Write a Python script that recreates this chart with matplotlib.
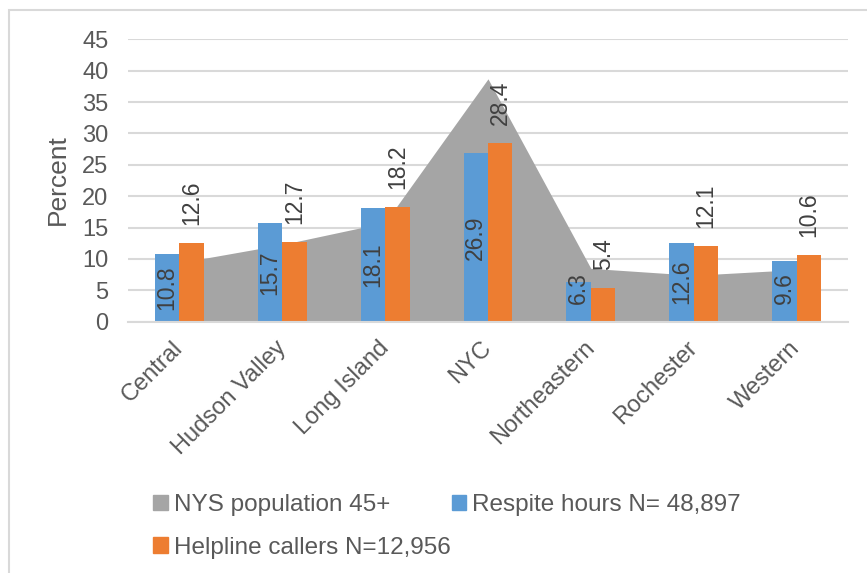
import matplotlib.pyplot as plt
import matplotlib.transforms as mtrans
import numpy as np
from matplotlib.patches import Patch, Rectangle

plt.rcParams['font.family'] = ['Liberation Sans', 'DejaVu Sans']

C_POP = '#A5A5A5'
C_RESPITE = '#5B9BD5'
C_HELP = '#ED7D31'
C_TEXT = '#595959'
C_LABEL = '#404040'
C_GRID = '#D9D9D9'

regions = ['Central', 'Hudson Valley', 'Long Island', 'NYC', 'Northeastern', 'Rochester', 'Western']
pop_45 = [9.4, 12.3, 15.8, 38.7, 8.5, 7.4, 8.3]
respite = [10.8, 15.7, 18.1, 26.9, 6.3, 12.6, 9.6]
helpline = [12.6, 12.7, 18.2, 28.4, 5.4, 12.1, 10.6]
yticks = [0, 5, 10, 15, 20, 25, 30, 35, 40, 45]

W, H = 867, 573
fig = plt.figure(figsize=(W / 100, H / 100), dpi=100)
ax = fig.add_axes([128 / W, 1 - 321.7 / H, 720 / W, 282.4 / H])

x = np.arange(len(regions))
bw = 0.238

ax.fill_between(x, 0, pop_45, color=C_POP, lw=0, zorder=1)
ax.bar(x - bw / 2, respite, bw, color=C_RESPITE, zorder=2)
ax.bar(x + bw / 2, helpline, bw, color=C_HELP, zorder=2)

# labels: respite inside the bar, helpline above it
for xi, v in zip(x, respite):
    ax.text(xi - bw / 2, max(v / 2, 5.3), f'{v:.1f}', rotation=90, ha='center', va='center',
            fontsize=16.5, color=C_LABEL, zorder=4)
for xi, v in zip(x, helpline):
    ax.annotate(f'{v:.1f}', (xi + bw / 2, v), xytext=(0, 13), textcoords='offset points',
                rotation=90, ha='center', va='bottom', fontsize=16.5, color=C_LABEL, zorder=4)

ax.set_xlim(-0.5, len(regions) - 0.5)
ax.set_ylim(0, 45)
ax.set_yticks(yticks)
ax.set_xticks(x)
ax.set_xticklabels(regions, rotation=45, ha='right', va='top', fontsize=17.5)
ax.tick_params(axis='both', length=0, labelsize=17, labelcolor=C_TEXT)
ax.tick_params(axis='y', pad=14)
ax.tick_params(axis='x', pad=11)
# nudge category labels right (after tick_params, which resets transforms)
shift = mtrans.ScaledTranslation(8 / 100, 0, fig.dpi_scale_trans)
for lbl in ax.get_xticklabels():
    lbl.set_transform(lbl.get_transform() + shift)
ax.grid(axis='y', color=C_GRID, lw=1.5, zorder=0)
ax.set_axisbelow(True)
for s in ['top', 'right', 'left']:
    ax.spines[s].set_visible(False)
ax.spines['bottom'].set_color(C_GRID)
ax.spines['bottom'].set_linewidth(1.5)

fig.text(57.5 / W, 1 - 180 / H, 'Percent', rotation=90, ha='center', va='center',
         fontsize=19, color=C_TEXT)

handles = [Patch(color=C_POP, label='NYS population 45+'),
           Patch(color=C_HELP, label='Helpline callers N=12,956'),
           Patch(color=C_RESPITE, label='Respite hours N= 48,897')]
fig.legend(handles=handles, ncol=2, loc='upper left', bbox_to_anchor=(153 / W, 1 - 494 / H),
           frameon=False, fontsize=17.5, labelcolor=C_TEXT, handlelength=0.6, handleheight=0.6,
           handletextpad=0.25, columnspacing=0.05, labelspacing=0.85, borderpad=0, borderaxespad=0)

# chart area border (cut off at right and bottom)
fig.add_artist(Rectangle((8.5 / W, -0.2), 1.5, 1 - 10 / H + 0.2, transform=fig.transFigure,
                         fill=False, ec=C_GRID, lw=1.5, clip_on=False))

fig.savefig('out.png', dpi=100)
